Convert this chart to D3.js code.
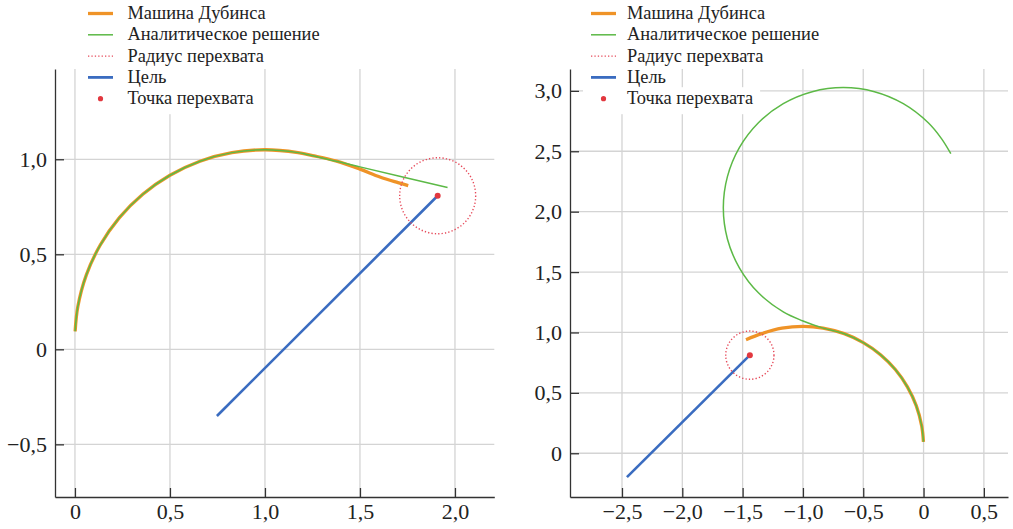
<!DOCTYPE html>
<html>
<head>
<meta charset="utf-8">
<script src="https://cdn.jsdelivr.net/npm/d3@7"></script>
<style>
  html, body { margin: 0; padding: 0; background: #fff; }
  svg { display: block; }
  text { font-family: "Liberation Serif", "Times New Roman", serif; fill: #222; }
</style>
</head>
<body>
<svg id="chart" width="1013" height="529"></svg>
<script>
// ---- Data ---------------------------------------------------------------
const legendLabels = ["Машина Дубинса", "Аналитическое решение", "Радиус перехвата", "Цель", "Точка перехвата"];

// Left panel: straight-line ending
const leftXTicks = [0, 0.5, 1, 1.5, 2];
const leftYTicks = [-0.5, 0, 0.5, 1];
const leftDubins = [
  [0.001, 0.095], [0.015, 0.224], [0.06, 0.392], [0.134, 0.55], [0.234, 0.693],
  [0.357, 0.816], [0.5, 0.916], [0.658, 0.99], [0.826, 1.035], [1.0, 1.05], [1.174, 1.035],
  [1.259, 1.018], [1.377, 0.99], [1.5, 0.948], [1.605, 0.907], [1.7, 0.877], [1.754, 0.861]
];
const leftAnalytic = [
  [0.001, 0.095], [0.015, 0.224], [0.06, 0.392], [0.134, 0.55], [0.234, 0.693],
  [0.357, 0.816], [0.5, 0.916], [0.658, 0.99], [0.826, 1.035], [1.0, 1.05], [1.174, 1.035],
  [1.228, 1.024], [1.5, 0.96], [1.961, 0.851]
];
const leftTarget = [[0.747, -0.351], [1.909, 0.808]];
const leftIntercept = [1.909, 0.808];

// Right panel: turn-around ending
const rightXTicks = [-2.5, -2, -1.5, -1, -0.5, 0, 0.5];
const rightYTicks = [0, 0.5, 1, 1.5, 2, 2.5, 3];
const rightDubins = [
  [-0.001, 0.095], [-0.015, 0.224], [-0.06, 0.392], [-0.134, 0.55], [-0.234, 0.693],
  [-0.357, 0.816], [-0.5, 0.916], [-0.658, 0.99], [-0.833, 1.036], [-1.0, 1.05],
  [-1.174, 1.035], [-1.342, 0.99], [-1.472, 0.94]
];
const rightAnalytic = [
  [-0.001, 0.095], [-0.015, 0.224], [-0.06, 0.392], [-0.134, 0.55], [-0.234, 0.693],
  [-0.357, 0.816], [-0.5, 0.916], [-0.658, 0.99], [-0.833, 1.036], [-1.005, 1.097],
  [-1.163, 1.17], [-1.369, 1.328], [-1.527, 1.535], [-1.626, 1.774], [-1.66, 2.032],
  [-1.626, 2.29], [-1.527, 2.53], [-1.369, 2.736], [-1.163, 2.894], [-0.923, 2.993],
  [-0.665, 3.027], [-0.407, 2.993], [-0.168, 2.894], [0.039, 2.736], [0.15, 2.603],
  [0.226, 2.48]
];
const rightTarget = [[-2.459, -0.197], [-1.44, 0.812]];
const rightIntercept = [-1.44, 0.812];

const captureRadius = 0.2;

// ---- Style --------------------------------------------------------------
const colors = {
  dubins: "#ef9327",
  analytic: "#5cb946",
  radius: "#e64a5a",
  target: "#3a6cc0",
  point: "#e2383f",
  grid: "#d4d4d4",
  axis: "#333"
};

const svg = d3.select("#chart");

const fmt = v => v === 0 ? "0" : d3.format(".1f")(v).replace("-", "\u2212").replace(".", ",");

function drawPanel(cfg) {
  const x = d3.scaleLinear().domain(cfg.xDomain).range([cfg.left, cfg.right]);
  const y = d3.scaleLinear().domain(cfg.yDomain).range([cfg.bottom, cfg.top]);
  const g = svg.append("g");

  // grid
  g.append("g").selectAll("line").data(cfg.xTicks).join("line")
    .attr("x1", d => x(d)).attr("x2", d => x(d))
    .attr("y1", cfg.top).attr("y2", cfg.bottom)
    .attr("stroke", colors.grid).attr("stroke-width", 1.3);
  g.append("g").selectAll("line").data(cfg.yTicks).join("line")
    .attr("x1", cfg.left).attr("x2", cfg.right)
    .attr("y1", d => y(d)).attr("y2", d => y(d))
    .attr("stroke", colors.grid).attr("stroke-width", 1.3);

  const line = d3.line().x(d => x(d[0])).y(d => y(d[1])).curve(d3.curveCatmullRom.alpha(0.5));

  // target track
  g.append("path").attr("d", d3.line().x(d => x(d[0])).y(d => y(d[1]))(cfg.target))
    .attr("fill", "none").attr("stroke", colors.target).attr("stroke-width", 2.6);

  // Dubins car path
  g.append("path").attr("d", line(cfg.dubins))
    .attr("fill", "none").attr("stroke", colors.dubins).attr("stroke-width", 3.3);

  // analytic solution
  g.append("path").attr("d", line(cfg.analytic))
    .attr("fill", "none").attr("stroke", colors.analytic).attr("stroke-width", 1.5);

  // capture radius
  const pxR = Math.abs(x(cfg.intercept[0] + captureRadius) - x(cfg.intercept[0]));
  g.append("circle")
    .attr("cx", x(cfg.intercept[0])).attr("cy", y(cfg.intercept[1])).attr("r", pxR)
    .attr("fill", "none").attr("stroke", colors.radius).attr("stroke-width", 1.4)
    .attr("stroke-dasharray", "1.3,2.1");

  // intercept point
  g.append("circle")
    .attr("cx", x(cfg.intercept[0])).attr("cy", y(cfg.intercept[1])).attr("r", 3)
    .attr("fill", colors.point);

  // axes with inward ticks
  const ax = g.append("g").attr("transform", `translate(0,${cfg.bottom})`)
    .call(d3.axisBottom(x).tickValues(cfg.xTicks).tickFormat(fmt)
      .tickSizeInner(-9).tickSizeOuter(0).tickPadding(6));
  const ay = g.append("g").attr("transform", `translate(${cfg.left},0)`)
    .call(d3.axisLeft(y).tickValues(cfg.yTicks).tickFormat(fmt)
      .tickSizeInner(-9).tickSizeOuter(0).tickPadding(8));
  [ax, ay].forEach(a => {
    a.select(".domain").attr("stroke", colors.axis).attr("stroke-width", 1.3);
    a.selectAll(".tick line").attr("stroke", colors.axis).attr("stroke-width", 1.3);
    a.selectAll(".tick text").attr("font-size", 22)
      .attr("font-family", "Liberation Serif, serif").attr("fill", "#222");
  });

  // legend
  const lg = g.append("g");
  const baselines = [19, 40.3, 61.6, 82.9, 104.2];
  const hx0 = cfg.legendX, hx1 = cfg.legendX + 25, tx = cfg.legendTextX;
  legendLabels.forEach((lab, i) => {
    const t = lg.append("text").attr("x", tx).attr("y", baselines[i])
      .attr("font-size", 18.4).text(lab);
    const w = t.node().getComputedTextLength();
    lg.insert("rect", "text")
      .attr("x", hx0 - 8).attr("y", baselines[i] - 17)
      .attr("width", tx + w + 7 - (hx0 - 8)).attr("height", i === 4 ? 27 : 22)
      .attr("fill", "#fff");
    const cy = baselines[i] - 5.5;
    const handle = (stroke, width, dash) => lg.append("line")
      .attr("x1", hx0).attr("x2", hx1).attr("y1", cy).attr("y2", cy)
      .attr("stroke", stroke).attr("stroke-width", width)
      .attr("stroke-dasharray", dash || null);
    if (i === 0) handle(colors.dubins, 3.3);
    if (i === 1) handle(colors.analytic, 1.5);
    if (i === 2) handle(colors.radius, 1.4, "1.3,2.1");
    if (i === 3) handle(colors.target, 2.8);
    if (i === 4) lg.append("circle").attr("cx", (hx0 + hx1) / 2).attr("cy", cy).attr("r", 2.6)
      .attr("fill", colors.point);
  });
}

drawPanel({
  left: 55, right: 494.3, top: 69, bottom: 497,
  xDomain: [-0.105, 2.207], yDomain: [-0.777, 1.475],
  xTicks: leftXTicks, yTicks: leftYTicks,
  dubins: leftDubins, analytic: leftAnalytic, target: leftTarget, intercept: leftIntercept,
  legendX: 88, legendTextX: 127.5
});

drawPanel({
  left: 570, right: 1008, top: 69, bottom: 497,
  xDomain: [-2.931, 0.7], yDomain: [-0.362, 3.181],
  xTicks: rightXTicks, yTicks: rightYTicks,
  dubins: rightDubins, analytic: rightAnalytic, target: rightTarget, intercept: rightIntercept,
  legendX: 591, legendTextX: 627
});
</script>
</body>
</html>
